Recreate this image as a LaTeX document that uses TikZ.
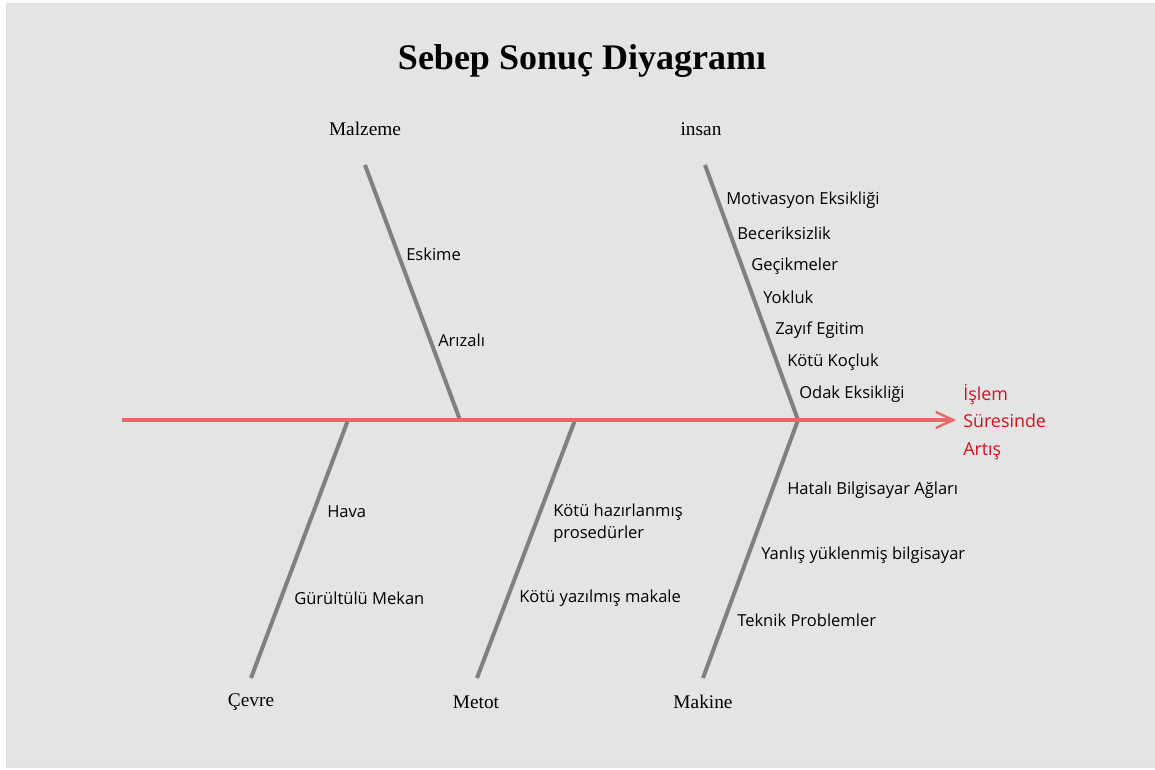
\documentclass[tikz,border=0pt]{standalone}
\usepackage{fontspec}
\setmainfont{Liberation Serif}
\newfontfamily\causefont{Open Sans}
\usetikzlibrary{arrows.meta}
\definecolor{bg}{HTML}{E4E4E4}
\definecolor{bonegray}{HTML}{808080}
\definecolor{spinered}{HTML}{E86868}
\definecolor{effectred}{HTML}{D8101E}
\tikzset{
  bone/.style={draw=bonegray, line width=3pt},
  spine/.style={draw=spinered, line width=3pt, -{Straight Barb[length=13pt,width=12pt,line width=1.8pt]}},
  cat/.style={font=\fontsize{14.5}{17}\selectfont, inner sep=0pt},
  cause/.style={font=\causefont\fontsize{12.4}{16.5}\selectfont, anchor=west, inner sep=0pt, align=left},
  effect/.style={font=\causefont\fontsize{13.4}{20.5}\selectfont, text=effectred, anchor=west, inner sep=0pt, align=left},
  titlestyle/.style={font=\bfseries\fontsize{27}{32}\selectfont, inner sep=0pt}
}
\begin{document}
\begin{tikzpicture}[x=0.75pt,y=-0.75pt]
\useasboundingbox (0,0) rectangle (1155,769);
\fill[bg] (6,3) rectangle (1155,767);
\draw[draw=black!12, line width=0.6pt] (6,3) rectangle (1155,767);

\node[titlestyle] (title) at (582,61) {Sebep Sonuç Diyagramı};

% spine
\coordinate (tail) at (122,420);
\coordinate (head) at (956,420);
\coordinate (jMal) at (460,420);
\coordinate (jIns) at (798,420);
\coordinate (jCev) at (348,420);
\coordinate (jMet) at (575,420);
\coordinate (jMak) at (798,420);
\coordinate (tMal) at (365,165);
\coordinate (tIns) at (705,165);
\coordinate (tCev) at (251,678);
\coordinate (tMet) at (477,678);
\coordinate (tMak) at (703,678);

\draw[bone] (tMal) -- (jMal);
\draw[bone] (tIns) -- (jIns);
\draw[bone] (jCev) -- (tCev);
\draw[bone] (jMet) -- (tMet);
\draw[bone] (jMak) -- (tMak);
\draw[spine] (tail) -- (head);

% categories
\node[cat] (malzeme) at (365,129) {Malzeme};
\node[cat] (insan) at (701,129) {insan};
\node[cat] (cevre) at (251,702) {Çevre};
\node[cat] (metot) at (476,702) {Metot};
\node[cat] (makine) at (703,702) {Makine};

% causes
\node[cause] (c1) at (406,254) {Eskime};
\node[cause] (c2) at (438,340) {Arızalı};
\node[cause] (c3) at (726,200) {Motivasyon Eksikliği};
\node[cause] (c4) at (737,233) {Beceriksizlik};
\node[cause] (c5) at (751,266) {Geçikmeler};
\node[cause] (c6) at (763,297) {Yokluk};
\node[cause] (c7) at (775,330) {Zayıf Egitim};
\node[cause] (c8) at (787,362) {Kötü Koçluk};
\node[cause] (c9) at (799,394) {Odak Eksikliği};
\node[cause] (c10) at (327,512) {Hava};
\node[cause] (c11) at (294,598) {Gürültülü Mekan};
\node[cause] (c12) at (553,523) {Kötü hazırlanmış\\prosedürler};
\node[cause] (c13) at (519,598) {Kötü yazılmış makale};
\node[cause] (c14) at (787,490) {Hatalı Bilgisayar Ağları};
\node[cause] (c15) at (761,555) {Yanlış yüklenmiş bilgisayar};
\node[cause] (c16) at (737,620) {Teknik Problemler};

\node[effect] (effect) at (963,422) {İşlem\\Süresinde\\Artış};
\end{tikzpicture}
\end{document}
